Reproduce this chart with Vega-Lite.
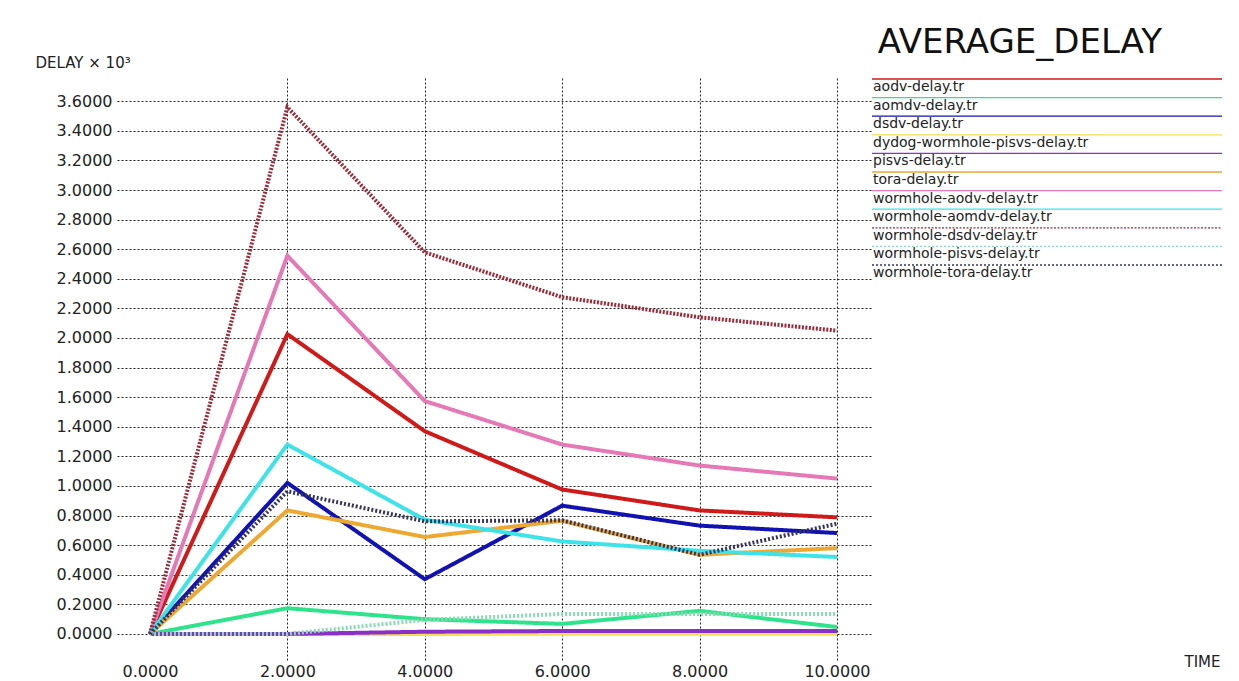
{
  "$schema": "https://vega.github.io/schema/vega-lite/v6.json",
  "autosize": {"type": "none"},
  "width": 755,
  "height": 582,
  "padding": {"left": 117, "top": 78, "right": 367, "bottom": 21},
  "background": "white",
  "config": {
    "view": {"stroke": null},
    "font": "DejaVu Sans",
    "axis": {"labelFont": "DejaVu Sans", "labelColor": "#222", "titleFont": "DejaVu Sans", "titleColor": "#222", "titleFontWeight": "normal"}
  },
  "title": {
    "text": "AVERAGE_DELAY",
    "anchor": "end",
    "frame": "group",
    "dx": 290,
    "dy": 53,
    "offset": 21,
    "baseline": "alphabetic",
    "font": "DejaVu Sans",
    "fontSize": 34,
    "fontWeight": "normal",
    "color": "#111"
  },
  "data": {
    "values": [
      {"series": "aodv-delay.tr", "time": 0, "delay": 0},
      {"series": "aodv-delay.tr", "time": 2, "delay": 2.026},
      {"series": "aodv-delay.tr", "time": 4, "delay": 1.37},
      {"series": "aodv-delay.tr", "time": 6, "delay": 0.976},
      {"series": "aodv-delay.tr", "time": 8, "delay": 0.835},
      {"series": "aodv-delay.tr", "time": 10, "delay": 0.788},
      {"series": "aomdv-delay.tr", "time": 0, "delay": 0},
      {"series": "aomdv-delay.tr", "time": 2, "delay": 0.174},
      {"series": "aomdv-delay.tr", "time": 4, "delay": 0.1},
      {"series": "aomdv-delay.tr", "time": 6, "delay": 0.068},
      {"series": "aomdv-delay.tr", "time": 8, "delay": 0.156},
      {"series": "aomdv-delay.tr", "time": 10, "delay": 0.047},
      {"series": "dsdv-delay.tr", "time": 0, "delay": 0},
      {"series": "dsdv-delay.tr", "time": 2, "delay": 1.021},
      {"series": "dsdv-delay.tr", "time": 4, "delay": 0.37},
      {"series": "dsdv-delay.tr", "time": 6, "delay": 0.867},
      {"series": "dsdv-delay.tr", "time": 8, "delay": 0.732},
      {"series": "dsdv-delay.tr", "time": 10, "delay": 0.682},
      {"series": "dydog-wormhole-pisvs-delay.tr", "time": 0, "delay": 0},
      {"series": "dydog-wormhole-pisvs-delay.tr", "time": 2, "delay": 0},
      {"series": "dydog-wormhole-pisvs-delay.tr", "time": 4, "delay": 0},
      {"series": "dydog-wormhole-pisvs-delay.tr", "time": 6, "delay": 0.002},
      {"series": "dydog-wormhole-pisvs-delay.tr", "time": 8, "delay": 0.002},
      {"series": "dydog-wormhole-pisvs-delay.tr", "time": 10, "delay": 0.002},
      {"series": "pisvs-delay.tr", "time": 0, "delay": 0},
      {"series": "pisvs-delay.tr", "time": 2, "delay": 0},
      {"series": "pisvs-delay.tr", "time": 4, "delay": 0.015},
      {"series": "pisvs-delay.tr", "time": 6, "delay": 0.02},
      {"series": "pisvs-delay.tr", "time": 8, "delay": 0.02},
      {"series": "pisvs-delay.tr", "time": 10, "delay": 0.02},
      {"series": "tora-delay.tr", "time": 0, "delay": 0},
      {"series": "tora-delay.tr", "time": 2, "delay": 0.835},
      {"series": "tora-delay.tr", "time": 4, "delay": 0.655},
      {"series": "tora-delay.tr", "time": 6, "delay": 0.765},
      {"series": "tora-delay.tr", "time": 8, "delay": 0.535},
      {"series": "tora-delay.tr", "time": 10, "delay": 0.58},
      {"series": "wormhole-aodv-delay.tr", "time": 0, "delay": 0},
      {"series": "wormhole-aodv-delay.tr", "time": 2, "delay": 2.556},
      {"series": "wormhole-aodv-delay.tr", "time": 4, "delay": 1.574},
      {"series": "wormhole-aodv-delay.tr", "time": 6, "delay": 1.28},
      {"series": "wormhole-aodv-delay.tr", "time": 8, "delay": 1.138},
      {"series": "wormhole-aodv-delay.tr", "time": 10, "delay": 1.05},
      {"series": "wormhole-aomdv-delay.tr", "time": 0, "delay": 0},
      {"series": "wormhole-aomdv-delay.tr", "time": 2, "delay": 1.28},
      {"series": "wormhole-aomdv-delay.tr", "time": 4, "delay": 0.772},
      {"series": "wormhole-aomdv-delay.tr", "time": 6, "delay": 0.625},
      {"series": "wormhole-aomdv-delay.tr", "time": 8, "delay": 0.562},
      {"series": "wormhole-aomdv-delay.tr", "time": 10, "delay": 0.52},
      {"series": "wormhole-dsdv-delay.tr", "time": 0, "delay": 0},
      {"series": "wormhole-dsdv-delay.tr", "time": 2, "delay": 3.56},
      {"series": "wormhole-dsdv-delay.tr", "time": 4, "delay": 2.579},
      {"series": "wormhole-dsdv-delay.tr", "time": 6, "delay": 2.276},
      {"series": "wormhole-dsdv-delay.tr", "time": 8, "delay": 2.14},
      {"series": "wormhole-dsdv-delay.tr", "time": 10, "delay": 2.05},
      {"series": "wormhole-pisvs-delay.tr", "time": 0, "delay": 0},
      {"series": "wormhole-pisvs-delay.tr", "time": 2, "delay": 0},
      {"series": "wormhole-pisvs-delay.tr", "time": 4, "delay": 0.095},
      {"series": "wormhole-pisvs-delay.tr", "time": 6, "delay": 0.135},
      {"series": "wormhole-pisvs-delay.tr", "time": 8, "delay": 0.135},
      {"series": "wormhole-pisvs-delay.tr", "time": 10, "delay": 0.135},
      {"series": "wormhole-tora-delay.tr", "time": 0, "delay": 0},
      {"series": "wormhole-tora-delay.tr", "time": 2, "delay": 0.964},
      {"series": "wormhole-tora-delay.tr", "time": 4, "delay": 0.761},
      {"series": "wormhole-tora-delay.tr", "time": 6, "delay": 0.768},
      {"series": "wormhole-tora-delay.tr", "time": 8, "delay": 0.535},
      {"series": "wormhole-tora-delay.tr", "time": 10, "delay": 0.745}
    ]
  },
  "mark": {"type": "line", "strokeWidth": 4, "strokeJoin": "miter", "strokeCap": "butt"},
  "encoding": {
    "x": {
      "field": "time",
      "type": "quantitative",
      "scale": {"domain": [-0.48, 10.51], "nice": false, "zero": false},
      "axis": {
        "values": [0, 2, 4, 6, 8, 10],
        "format": ".4f",
        "grid": true,
        "gridDash": [2, 2],
        "gridColor": "#222",
        "gridOpacity": {"condition": {"test": "datum.value == 0", "value": 0}, "value": 1},
        "domain": false,
        "ticks": false,
        "labelPadding": 3,
        "labelFontSize": 16,
        "title": "TIME",
        "titleFontSize": 15,
        "titleX": 1103,
        "titleY": 1,
        "titleAlign": "right",
        "titleBaseline": "middle"
      }
    },
    "y": {
      "field": "delay",
      "type": "quantitative",
      "scale": {"domain": [-0.176, 3.757], "nice": false, "zero": false},
      "axis": {
        "values": [0, 0.2, 0.4, 0.6, 0.8, 1, 1.2, 1.4, 1.6, 1.8, 2, 2.2, 2.4, 2.6, 2.8, 3, 3.2, 3.4, 3.6],
        "format": ".4f",
        "grid": true,
        "gridDash": [2, 2],
        "gridColor": "#222",
        "domain": false,
        "ticks": false,
        "labelPadding": 5,
        "labelFontSize": 16,
        "title": "DELAY × 10³",
        "titleFontSize": 15,
        "titleAngle": 0,
        "titleAlign": "left",
        "titleBaseline": "middle",
        "titleX": -82,
        "titleY": -16
      }
    },
    "color": {
      "field": "series",
      "type": "nominal",
      "title": null,
      "scale": {
        "domain": ["aodv-delay.tr", "aomdv-delay.tr", "dsdv-delay.tr", "dydog-wormhole-pisvs-delay.tr", "pisvs-delay.tr", "tora-delay.tr", "wormhole-aodv-delay.tr", "wormhole-aomdv-delay.tr", "wormhole-dsdv-delay.tr", "wormhole-pisvs-delay.tr", "wormhole-tora-delay.tr"],
        "range": ["#d01a1a", "#2ee38c", "#1212b0", "#f5e050", "#8a2fc8", "#eda832", "#e479b6", "#3ee3e8", "#9a2a38", "#86d9b0", "#34345e"]
      },
      "legend": {
        "orient": "none",
        "legendX": 738,
        "legendY": 2,
        "padding": 0,
        "symbolType": "M 10 -8 L 360 -8",
        "symbolSize": 4,
        "symbolStrokeWidth": 1.3,
        "labelFont": "DejaVu Sans",
        "labelFontSize": 14,
        "labelColor": "#222",
        "labelLimit": 400,
        "rowPadding": 0.6
      }
    },
    "strokeDash": {
      "field": "series",
      "type": "nominal",
      "title": null,
      "scale": {
        "domain": ["aodv-delay.tr", "aomdv-delay.tr", "dsdv-delay.tr", "dydog-wormhole-pisvs-delay.tr", "pisvs-delay.tr", "tora-delay.tr", "wormhole-aodv-delay.tr", "wormhole-aomdv-delay.tr", "wormhole-dsdv-delay.tr", "wormhole-pisvs-delay.tr", "wormhole-tora-delay.tr"],
        "range": [[1, 0], [1, 0], [1, 0], [1, 0], [1, 0], [1, 0], [1, 0], [1, 0], [2, 1.5], [2, 2], [2, 2]]
      }
    }
  }
}
